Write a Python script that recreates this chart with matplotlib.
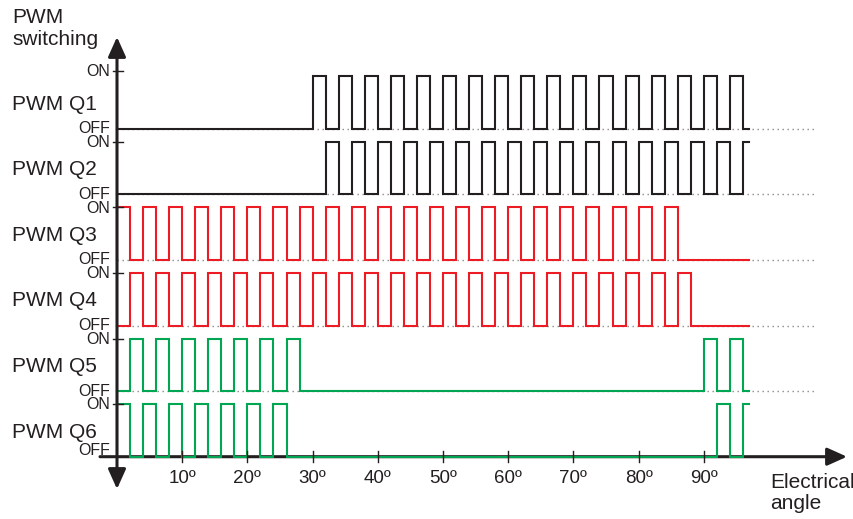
import numpy as np
import matplotlib.pyplot as plt

plt.rcParams['font.family'] = ['Liberation Sans', 'DejaVu Sans']

# signal names, top to bottom
names = ["PWM Q1", "PWM Q2", "PWM Q3", "PWM Q4", "PWM Q5", "PWM Q6"]
colors = ["#231f20", "#231f20", "#ed1c24", "#ed1c24", "#00a651", "#00a651"]

# start angle (deg) of every ON pulse, each pulse is 2 deg wide
q1_on = [30, 34, 38, 42, 46, 50, 54, 58, 62, 66, 70, 74, 78, 82, 86, 90, 94]
q2_on = [32, 36, 40, 44, 48, 52, 56, 60, 64, 68, 72, 76, 80, 84, 88, 92, 96]
q3_on = [0, 4, 8, 12, 16, 20, 24, 28, 32, 36, 40, 44, 48, 52, 56, 60, 64, 68,
         72, 76, 80, 84]
q4_on = [2, 6, 10, 14, 18, 22, 26, 30, 34, 38, 42, 46, 50, 54, 58, 62, 66, 70,
         74, 78, 82, 86]
q5_on = [2, 6, 10, 14, 18, 22, 26, 90, 94]
q6_on = [0, 4, 8, 12, 16, 20, 24, 92, 96]
pulses = [q1_on, q2_on, q3_on, q4_on, q5_on, q6_on]

pulse_width = 2
trace_end = 97
dotted_end = 107

angle_ticks = [10, 20, 30, 40, 50, 60, 70, 80, 90]
angle_labels = ["%d\u00ba" % a for a in angle_ticks]

txt = "#231f20"

# figure in pixel-like layout: 6.52 px per degree, 65.6 px per row
px_deg = 6.52
px_row = 65.6
x0_px, y0_px = 117, 456.7
W, H = 854, 519

fig = plt.figure(figsize=(W / 100, H / 100), dpi=100)
ax = fig.add_axes([0, 0, 1, 1])
ax.set_xlim(-x0_px / px_deg, (W - x0_px) / px_deg)
ax.set_ylim(-(H - y0_px) / px_row, y0_px / px_row)
ax.axis('off')


def step_path(starts, width, end):
    xs, ys = [0], [0]
    for s in starts:
        e = min(s + width, end)
        xs += [s, s, e, e]
        ys += [0, 1, 1, 0] if e < end else [0, 1, 1, 1]
    if xs[-1] < end:
        xs.append(end)
        ys.append(0)
    return np.array(xs), np.array(ys)


amp = 0.8
for i, (name, col, on) in enumerate(zip(names, colors, pulses)):
    base = 5 - i
    if i < 5:
        ax.plot([0, dotted_end], [base, base], color="#8a8a8a", lw=1,
                linestyle=(0, (1, 2.6)), zorder=1)
    xs, ys = step_path(on, pulse_width, trace_end)
    ax.plot(xs, base + amp * ys, color=col, lw=1.5, zorder=3,
            solid_joinstyle='miter')
    ax.text(-16.1, base + 0.29, name, fontsize=15, color=txt,
            ha='left', va='baseline')
    on_lvl = base + (0.88 if i == 0 else amp)
    ax.plot([-0.6, 0.9], [on_lvl, on_lvl], color=txt, lw=1, zorder=4)
    ax.text(-1.0, on_lvl - 0.08, "ON", fontsize=11.5, color=txt,
            ha='right', va='baseline')
    off_y = base - 0.07 if i < 5 else base + 0.03
    ax.text(-1.0, off_y, "OFF", fontsize=11.5, color=txt,
            ha='right', va='baseline')

# axes with arrows
ax.annotate('', xy=(0, (y0_px - 37) / px_row), xytext=(0, (y0_px - 489) / px_row),
            arrowprops=dict(arrowstyle='<|-|>,head_length=0.6,head_width=0.27',
                            color=txt, lw=2.2, mutation_scale=20,
                            shrinkA=0, shrinkB=0), zorder=5)
ax.annotate('', xy=((847 - x0_px) / px_deg, 0), xytext=((100 - x0_px) / px_deg, 0),
            arrowprops=dict(arrowstyle='-|>,head_length=0.6,head_width=0.27',
                            color=txt, lw=2.2, mutation_scale=20,
                            shrinkA=0, shrinkB=0), zorder=2)

for a, lab in zip(angle_ticks, angle_labels):
    ax.plot([a, a], [0.08, -0.08], color=txt, lw=1, zorder=4)
    ax.text(a, -0.405, lab, fontsize=13.5, color=txt, ha='center', va='baseline')

ax.text(-16.1, (y0_px - 23) / px_row, "PWM", fontsize=15, color=txt,
        ha='left', va='baseline')
ax.text(-16.1, (y0_px - 45) / px_row, "switching", fontsize=15, color=txt,
        ha='left', va='baseline')
ax.text((770 - x0_px) / px_deg, (y0_px - 488) / px_row, "Electrical",
        fontsize=15, color=txt, ha='left', va='baseline')
ax.text((770 - x0_px) / px_deg, (y0_px - 509) / px_row, "angle",
        fontsize=15, color=txt, ha='left', va='baseline')

fig.savefig("out.png", dpi=100)
